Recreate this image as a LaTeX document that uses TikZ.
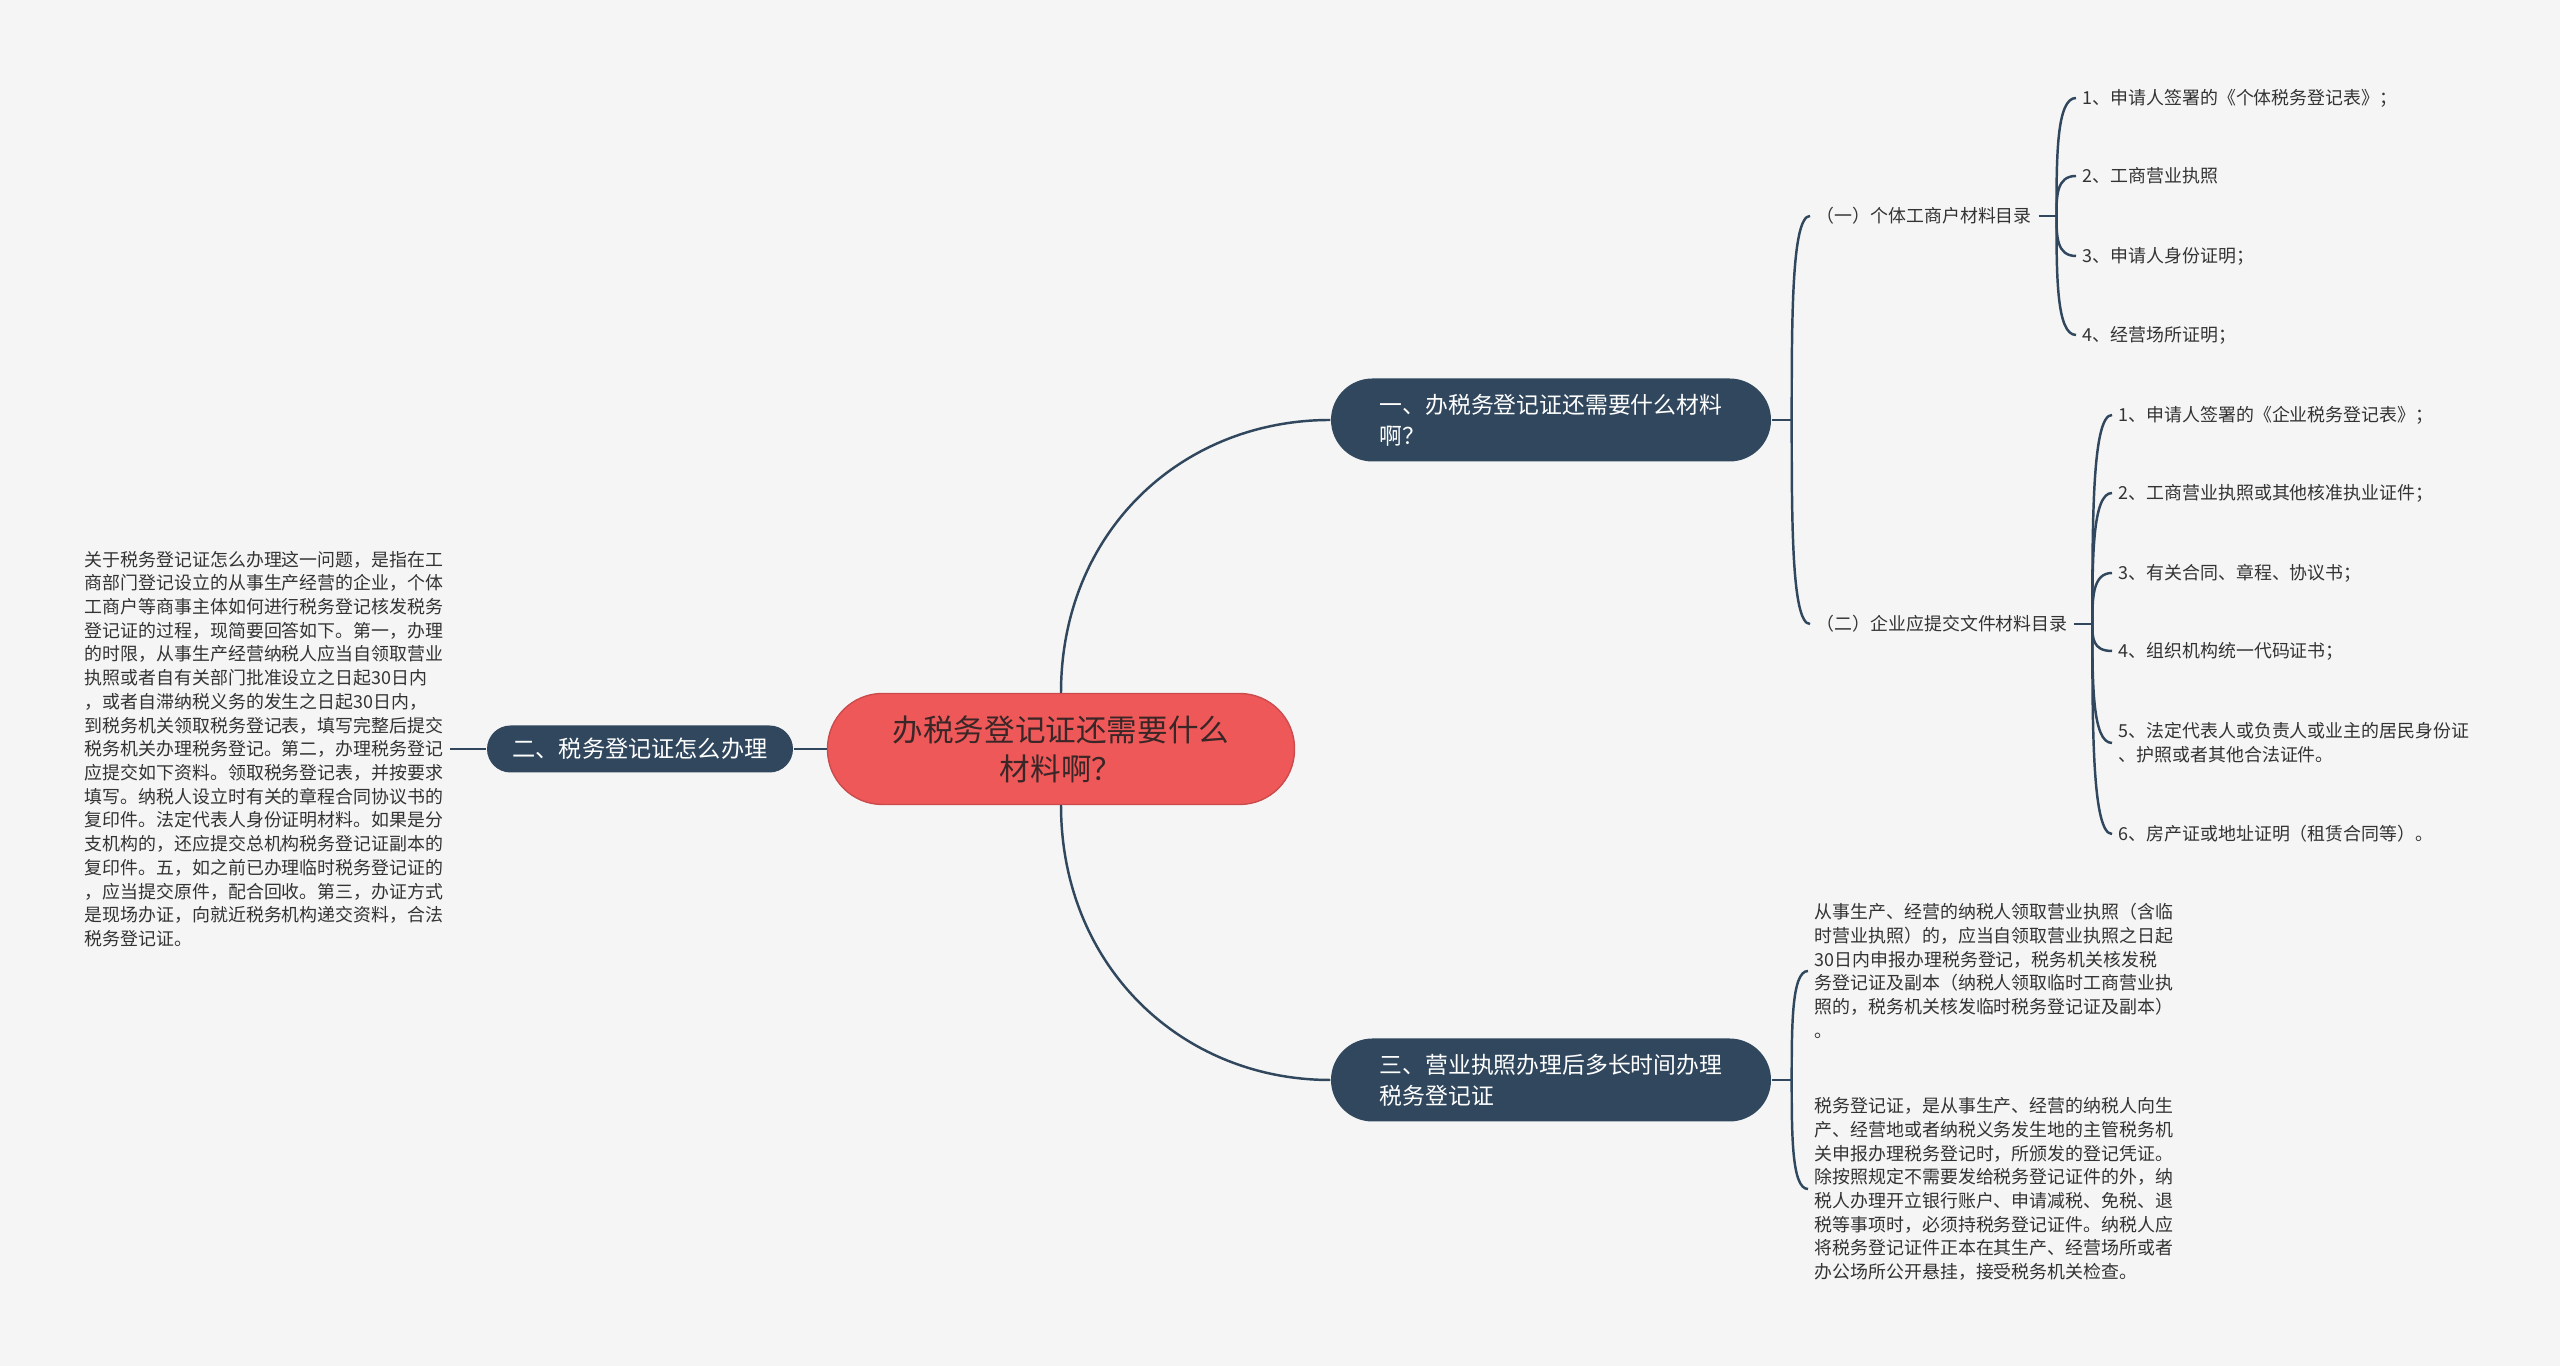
\documentclass[tikz,border=0pt]{standalone}
\usepackage{fontspec}
\setmainfont{Noto Sans CJK SC}
\usetikzlibrary{positioning,calc}

\definecolor{paper}{HTML}{F5F5F5}
\definecolor{navy}{HTML}{30475E}
\definecolor{coral}{HTML}{EF5859}
\definecolor{ink}{HTML}{333333}
\definecolor{topicink}{HTML}{3A2626}

\begin{document}
\begin{tikzpicture}[
		topic/.style={draw=coral!85!black, line width=0.4pt, fill=coral, rectangle, rounded corners=0.55cm, minimum width=4.67cm, minimum height=1.11cm, align=center, text=topicink, font=\fontsize{8.7}{11.1}\selectfont},
		sec/.style={fill=navy, rectangle, rounded corners=0.415cm, minimum width=4.4cm, minimum height=0.83cm, align=left, text=white, font=\fontsize{6.5}{8.8}\selectfont},
		txt/.style={inner sep=0.06cm, align=left, text=ink, font=\fontsize{5.1}{6.75}\selectfont},
		line/.style={navy, line width=0.7pt},
		hook/.style={to path={.. controls ($(\tikztostart)!0.5!(\tikztostart|-\tikztotarget)$) and (\tikztostart|-\tikztotarget) .. (\tikztotarget)}}
		]
		
		\fill[paper] (0,0) rectangle (25.6,13.66);
		\useasboundingbox (0,0) rectangle (25.6,13.66);
		
		% ======================
		% Central topic
		% ======================
		\node[topic] (root) at (10.61,6.17) {办税务登记证还需要什么\\材料啊？};
		
		% ======================
		% LEFT SIDE
		% ======================
		\node[sec, align=center, minimum width=3.06cm, minimum height=0.47cm, rounded corners=0.235cm, font=\fontsize{6.6}{8.8}\selectfont] (sec2) at (6.40,6.17) {二、税务登记证怎么办理};
		
		\node[txt, anchor=east] (howto) at (4.50,6.17) {关于税务登记证怎么办理这一问题，是指在工\\商部门登记设立的从事生产经营的企业，个体\\工商户等商事主体如何进行税务登记核发税务\\登记证的过程，现简要回答如下。第一，办理\\的时限，从事生产经营纳税人应当自领取营业\\执照或者自有关部门批准设立之日起30日内\\，或者自滞纳税义务的发生之日起30日内，\\到税务机关领取税务登记表，填写完整后提交\\税务机关办理税务登记。第二，办理税务登记\\应提交如下资料。领取税务登记表，并按要求\\填写。纳税人设立时有关的章程合同协议书的\\复印件。法定代表人身份证明材料。如果是分\\支机构的，还应提交总机构税务登记证副本的\\复印件。五，如之前已办理临时税务登记证的\\，应当提交原件，配合回收。第三，办证方式\\是现场办证，向就近税务机构递交资料，合法\\税务登记证。};
		
		% ======================
		% RIGHT SIDE
		% ======================
		\node[sec] (sec1) at (15.51,9.46) {一、办税务登记证还需要什么材料\\啊？};
		
		\node[sec] (sec3) at (15.51,2.86) {三、营业执照办理后多长时间办理\\税务登记证};
		
		\node[txt, anchor=west] (cat1) at (18.10,11.50) {（一）个体工商户材料目录};
		\node[txt, anchor=west] (cat2) at (18.10,7.42) {（二）企业应提交文件材料目录};
		
		\node[txt, anchor=west] (ind1) at (20.76,12.68) {1、申请人签署的《个体税务登记表》；};
		\node[txt, anchor=west] (ind2) at (20.76,11.90) {2、工商营业执照};
		\node[txt, anchor=west] (ind3) at (20.76,11.10) {3、申请人身份证明；};
		\node[txt, anchor=west] (ind4) at (20.76,10.31) {4、经营场所证明；};
		
		\node[txt, anchor=west] (ent1) at (21.12,9.51) {1、申请人签署的《企业税务登记表》；};
		\node[txt, anchor=west] (ent2) at (21.12,8.73) {2、工商营业执照或其他核准执业证件；};
		\node[txt, anchor=west] (ent3) at (21.12,7.93) {3、有关合同、章程、协议书；};
		\node[txt, anchor=west] (ent4) at (21.12,7.15) {4、组织机构统一代码证书；};
		\node[txt, anchor=west] (ent5) at (21.12,6.23) {5、法定代表人或负责人或业主的居民身份证\\、护照或者其他合法证件。};
		\node[txt, anchor=west] (ent6) at (21.12,5.32) {6、房产证或地址证明（租赁合同等）。};
		
		\node[txt, anchor=west] (ans1) at (18.08,3.95) {从事生产、经营的纳税人领取营业执照（含临\\时营业执照）的，应当自领取营业执照之日起\\30日内申报办理税务登记，税务机关核发税\\务登记证及副本（纳税人领取临时工商营业执\\照的，税务机关核发临时税务登记证及副本）\\。};
		\node[txt, anchor=west] (ans2) at (18.08,1.77) {税务登记证，是从事生产、经营的纳税人向生\\产、经营地或者纳税义务发生地的主管税务机\\关申报办理税务登记时，所颁发的登记凭证。\\除按照规定不需要发给税务登记证件的外，纳\\税人办理开立银行账户、申请减税、免税、退\\税等事项时，必须持税务登记证件。纳税人应\\将税务登记证件正本在其生产、经营场所或者\\办公场所公开悬挂，接受税务机关检查。};
		
		% ======================
		% CONNECTIONS
		% ======================
		\draw[line] (root.west) -- (sec2.east);
		\draw[line] (sec2.west) -- (howto.east);
		\draw[line] (root.north) .. controls +(0,1.6) and +(-1.5,0) .. (sec1.west);
		\draw[line] (root.south) .. controls +(0,-1.6) and +(-1.5,0) .. (sec3.west);
		
		\coordinate (j1) at ([xshift=0.2cm]sec1.east);
		\draw[line] (sec1.east) -- (j1);
		\draw[line] (j1) to[hook] (cat1.west);
		\draw[line] (j1) to[hook] (cat2.west);
		
		\coordinate (j11) at ([xshift=0.18cm]cat1.east);
		\draw[line] (cat1.east) -- (j11);
		\draw[line] (j11) to[hook] (ind1.west);
		\draw[line] (j11) to[hook] (ind2.west);
		\draw[line] (j11) to[hook] (ind3.west);
		\draw[line] (j11) to[hook] (ind4.west);
		
		\coordinate (j12) at ([xshift=0.18cm]cat2.east);
		\draw[line] (cat2.east) -- (j12);
		\draw[line] (j12) to[hook] (ent1.west);
		\draw[line] (j12) to[hook] (ent2.west);
		\draw[line] (j12) to[hook] (ent3.west);
		\draw[line] (j12) to[hook] (ent4.west);
		\draw[line] (j12) to[hook] (ent5.west);
		\draw[line] (j12) to[hook] (ent6.west);
		
		\coordinate (j3) at ([xshift=0.2cm]sec3.east);
		\draw[line] (sec3.east) -- (j3);
		\draw[line] (j3) to[hook] (ans1.west);
		\draw[line] (j3) to[hook] (ans2.west);
		
	\end{tikzpicture}
\end{document}
